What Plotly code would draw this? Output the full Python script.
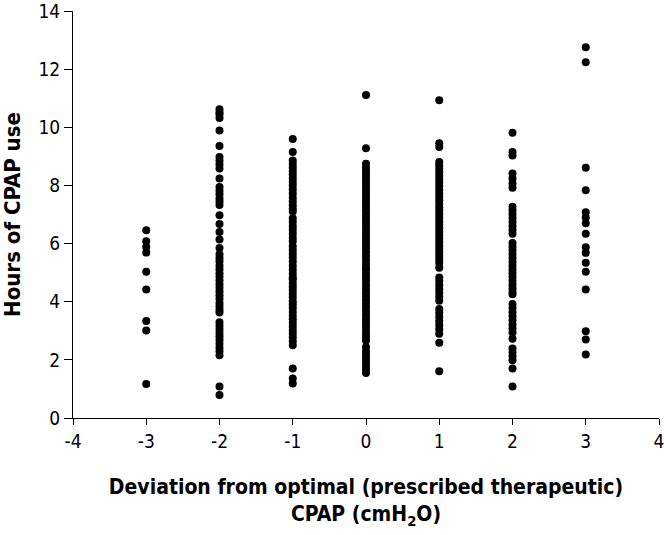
import plotly.graph_objects as go

# Hours of CPAP use at each deviation from the prescribed pressure
deviation = [-3, -2, -1, 0, 1, 2, 3]

hours_m3 = [6.46, 6.08, 5.88, 5.69, 5.03, 4.42, 3.34, 3.01, 1.17]
hours_m2 = [10.62, 10.52, 10.45, 10.32, 9.89, 9.36, 8.98, 8.85, 8.72, 8.58, 8.24,
            7.95, 7.82, 7.70, 7.56, 7.45, 7.33, 6.97, 6.67, 6.40, 6.14, 5.85, 5.63,
            5.50, 5.38, 5.24, 5.12, 4.98, 4.86, 4.73, 4.60, 4.48, 4.35, 4.22, 4.10,
            3.96, 3.84, 3.72, 3.63, 3.29, 3.17, 3.05, 2.92, 2.80, 2.68, 2.55, 2.42,
            2.30, 2.16, 1.08, 0.79]
hours_m1 = [9.60, 9.15, 8.86, 8.74, 8.62, 8.50, 8.38, 8.25, 8.12, 8.00, 7.86, 7.72,
            7.58, 7.45, 7.32, 7.20, 7.10, 6.87, 6.74, 6.60, 6.47, 6.34, 6.20, 6.08,
            5.91, 5.78, 5.65, 5.52, 5.38, 5.24, 5.10, 4.96, 4.83, 4.77, 4.64, 4.52,
            4.40, 4.28, 4.15, 4.02, 3.90, 3.78, 3.65, 3.52, 3.40, 3.28, 3.15, 3.02,
            2.90, 2.78, 2.64, 2.50, 1.70, 1.36, 1.19]
hours_0 = [11.11, 9.28, 8.75, 8.62, 8.50, 8.38, 8.25, 8.12, 8.00, 7.88, 7.75, 7.62,
           7.50, 7.38, 7.25, 7.12, 6.99, 6.87, 6.74, 6.61, 6.48, 6.35, 6.22, 6.09,
           5.96, 5.83, 5.70, 5.57, 5.44, 5.30, 5.17, 5.11, 4.98, 4.85, 4.72, 4.58,
           4.45, 4.32, 4.19, 4.06, 3.93, 3.80, 3.66, 3.53, 3.40, 3.27, 3.14, 3.00,
           2.87, 2.75, 2.67, 2.44, 2.30, 2.18, 2.05, 1.92, 1.80, 1.67, 1.55]
hours_p1 = [10.93, 9.45, 9.32, 8.81, 8.69, 8.57, 8.45, 8.33, 8.21, 8.09, 7.97, 7.85,
            7.73, 7.61, 7.49, 7.37, 7.25, 7.13, 7.01, 6.89, 6.77, 6.65, 6.53, 6.41,
            6.29, 6.17, 6.05, 5.93, 5.81, 5.69, 5.57, 5.45, 5.33, 5.17, 4.83, 4.70,
            4.57, 4.43, 4.30, 4.16, 4.03, 3.75, 3.62, 3.48, 3.34, 3.20, 3.05, 2.90,
            2.59, 1.61]
hours_p2 = [9.81, 9.15, 9.03, 8.41, 8.24, 8.07, 7.92, 7.27, 7.14, 7.01, 6.88, 6.74,
            6.60, 6.47, 6.34, 6.02, 5.89, 5.76, 5.63, 5.50, 5.37, 5.24, 5.11, 4.98,
            4.85, 4.72, 4.59, 4.46, 4.34, 4.26, 3.92, 3.78, 3.64, 3.50, 3.36, 3.22,
            3.08, 2.94, 2.73, 2.39, 2.25, 2.12, 1.99, 1.70, 1.08]
hours_p3 = [12.75, 12.24, 8.61, 7.83, 7.08, 6.90, 6.70, 6.34, 5.87, 5.68, 5.34, 5.03,
            4.42, 2.98, 2.70, 2.18]

x_ticks = [-4, -3, -2, -1, 0, 1, 2, 3, 4]
y_ticks = [0, 2, 4, 6, 8, 10, 12, 14]

columns = [hours_m3, hours_m2, hours_m1, hours_0, hours_p1, hours_p2, hours_p3]
xs, ys = [], []
for d, col in zip(deviation, columns):
    xs += [d] * len(col)
    ys += col

font_narrow = "Liberation Sans Narrow, DejaVu Sans Condensed, Arial Narrow, sans-serif"

fig = go.Figure()
fig.add_trace(go.Scatter(x=xs, y=ys, mode='markers',
                         marker=dict(size=8, color='black'),
                         showlegend=False))

fig.update_layout(
    width=664, height=535,
    margin=dict(l=73, r=5, t=11, b=117),
    paper_bgcolor='white', plot_bgcolor='white',
    font=dict(family=font_narrow, size=19, color='black'),
)

fig.update_xaxes(
    range=[-4, 4], tickvals=x_ticks, ticktext=[str(v) for v in x_ticks],
    showgrid=False, zeroline=False,
    showline=True, linecolor='black', linewidth=1,
    ticks='outside', ticklen=6, tickcolor='black',
    ticklabeloverflow='allow',
    title=dict(text="<b>Deviation from optimal (prescribed therapeutic)<br>CPAP (cmH<sub>2</sub>O)</b>",
               font=dict(size=21), standoff=28),
    automargin=False,
)
fig.update_yaxes(
    range=[0, 14], tickvals=y_ticks,
    showgrid=False, zeroline=False,
    showline=True, linecolor='black', linewidth=1,
    ticks='outside', ticklen=8, tickcolor='black',
    ticklabeloverflow='allow',
    title=dict(text="<b>Hours of CPAP use</b>", font=dict(size=22), standoff=15),
    automargin=False,
)

# page body margin off so the figure sits at the window corner
fig.write_html("out.html", config={'displayModeBar': False},
               post_script="document.body.style.margin='0';")
